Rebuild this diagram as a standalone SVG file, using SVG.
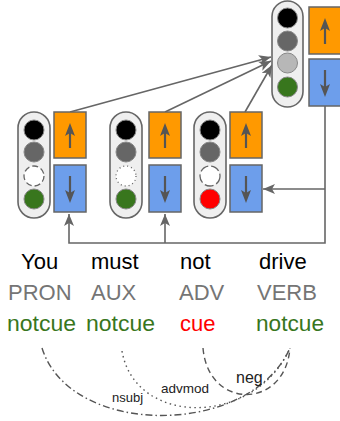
<svg xmlns="http://www.w3.org/2000/svg" width="340" height="421" viewBox="0 0 340 421">
<defs>
<marker id="ah" viewBox="0 0 12 10" refX="12" refY="5" markerWidth="12" markerHeight="10" markerUnits="userSpaceOnUse" orient="auto">
<path d="M0,0 L12,5 L0,10 L3,5 z" fill="#666"/>
</marker>
</defs>
<style>
.pill{fill:#efefef;stroke:#666;stroke-width:1.6}
.c{stroke:#888;stroke-width:1}
.up{fill:#ff9900;stroke:#666;stroke-width:1.5}
.dn{fill:#6d9eeb;stroke:#666;stroke-width:1.5}
.ia{stroke:#555;stroke-width:2.2;fill:none}
.ihd{fill:#555}
.con{stroke:#666;stroke-width:1.6;fill:none}
.w{font-family:"Liberation Sans",Arial,sans-serif;font-size:22px}
.arc{stroke:#555;stroke-width:1.4;fill:none}
.lb{font-family:"Liberation Sans",Arial,sans-serif;fill:#222}
</style>
<g id="connectors">
<line class="con" x1="70" y1="112" x2="271" y2="57" marker-end="url(#ah)"/>
<line class="con" x1="165" y1="112" x2="271" y2="61" marker-end="url(#ah)"/>
<line class="con" x1="245" y1="112" x2="272" y2="65" marker-end="url(#ah)"/>
<polyline class="con" points="325,106 325,243 69,243 69,214" marker-end="url(#ah)"/>
<line class="con" x1="165" y1="243" x2="165" y2="214" marker-end="url(#ah)"/>
<line class="con" x1="325" y1="189" x2="263" y2="189" marker-end="url(#ah)"/>
</g>
<g id="node-you">
<rect class="pill" x="18" y="112" width="32" height="106" rx="16"/>
<circle class="c" cx="34" cy="130" r="10" fill="#000"/>
<circle class="c" cx="34" cy="152" r="10" fill="#666"/>
<circle cx="34" cy="176" r="10" fill="#fff" stroke="#666" stroke-width="1.3" stroke-dasharray="6 3"/>
<circle class="c" cx="34" cy="199" r="10" fill="#38761d"/>
<rect class="up" x="54" y="112" width="32" height="46"/>
<line class="ia" x1="70" y1="148" x2="70" y2="133"/>
<path class="ihd" d="M70,123 L75,136 L70,133 L65,136 z"/>
<rect class="dn" x="54" y="165" width="32" height="47"/>
<line class="ia" x1="70" y1="176" x2="70" y2="193"/>
<path class="ihd" d="M70,203 L75,190 L70,193 L65,190 z"/>
</g>
<g id="node-must">
<rect class="pill" x="110" y="112" width="32" height="106" rx="16"/>
<circle class="c" cx="126" cy="130" r="10" fill="#000"/>
<circle class="c" cx="126" cy="152" r="10" fill="#666"/>
<circle cx="126" cy="176" r="10" fill="#fff" stroke="#666" stroke-width="1.3" stroke-dasharray="1 3"/>
<circle class="c" cx="126" cy="199" r="10" fill="#38761d"/>
<rect class="up" x="149" y="112" width="32" height="46"/>
<line class="ia" x1="165" y1="148" x2="165" y2="133"/>
<path class="ihd" d="M165,123 L170,136 L165,133 L160,136 z"/>
<rect class="dn" x="149" y="165" width="32" height="47"/>
<line class="ia" x1="165" y1="176" x2="165" y2="193"/>
<path class="ihd" d="M165,203 L170,190 L165,193 L160,190 z"/>
</g>
<g id="node-not">
<rect class="pill" x="194" y="112" width="32" height="106" rx="16"/>
<circle class="c" cx="210" cy="130" r="10" fill="#000"/>
<circle class="c" cx="210" cy="152" r="10" fill="#666"/>
<circle cx="210" cy="176" r="10" fill="#fff" stroke="#666" stroke-width="1.3" stroke-dasharray="9 3"/>
<circle class="c" cx="210" cy="199" r="10" fill="#ff0000"/>
<rect class="up" x="230" y="112" width="32" height="46"/>
<line class="ia" x1="246" y1="148" x2="246" y2="133"/>
<path class="ihd" d="M246,123 L251,136 L246,133 L241,136 z"/>
<rect class="dn" x="230" y="165" width="32" height="47"/>
<line class="ia" x1="246" y1="176" x2="246" y2="193"/>
<path class="ihd" d="M246,203 L251,190 L246,193 L241,190 z"/>
</g>
<g id="node-drive">
<rect class="pill" x="272" y="1" width="31" height="106" rx="15.5"/>
<circle class="c" cx="287.5" cy="18" r="10" fill="#000"/>
<circle class="c" cx="287.5" cy="41" r="10" fill="#666"/>
<circle class="c" cx="287.5" cy="63" r="10" fill="#b7b7b7"/>
<circle class="c" cx="287.5" cy="87" r="10" fill="#38761d"/>
<rect class="up" x="309" y="7" width="32" height="47"/>
<line class="ia" x1="325" y1="44" x2="325" y2="28"/>
<path class="ihd" d="M325,18 L330,31 L325,28 L320,31 z"/>
<rect class="dn" x="309" y="59" width="32" height="47"/>
<line class="ia" x1="325" y1="70" x2="325" y2="87"/>
<path class="ihd" d="M325,97 L330,84 L325,87 L320,84 z"/>
</g>
<g id="tokens" class="w">
<text x="21" y="269" fill="#000">You</text>
<text x="91" y="269" fill="#000">must</text>
<text x="180" y="269" fill="#000">not</text>
<text x="259" y="269" fill="#000">drive</text>
<text x="8" y="300" fill="#757575">PRON</text>
<text x="91" y="300" fill="#757575">AUX</text>
<text x="179" y="300" fill="#757575">ADV</text>
<text x="257" y="300" fill="#757575">VERB</text>
<text x="7" y="331" fill="#38761d" textLength="69" lengthAdjust="spacingAndGlyphs">notcue</text>
<text x="86" y="331" fill="#38761d" textLength="69" lengthAdjust="spacingAndGlyphs">notcue</text>
<text x="180" y="331" fill="#ff0000">cue</text>
<text x="256" y="331" fill="#38761d" textLength="68" lengthAdjust="spacingAndGlyphs">notcue</text>
</g>
<g id="arcs">
<path class="arc" d="M42,348 C70,438 250,438 290,348" stroke-dasharray="7 3 1.5 3"/>
<path class="arc" d="M122,351 C135,427 255,427 290,348" stroke-dasharray="1.5 3.5"/>
<path class="arc" d="M203,348 C208,410 285,410 290,348" stroke-dasharray="6 4"/>
<text class="lb" x="236" y="383" font-size="16">neg</text>
<text class="lb" x="161" y="393" font-size="13.5">advmod</text>
<text class="lb" x="112" y="402" font-size="13">nsubj</text>
</g>
</svg>
